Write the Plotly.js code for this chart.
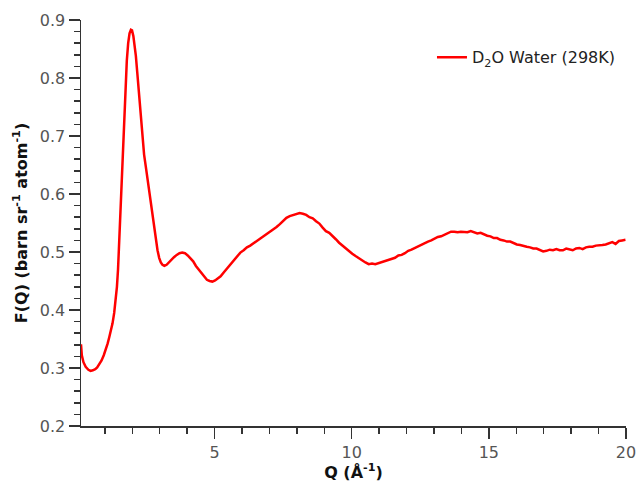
<!DOCTYPE html>
<html>
<head>
<meta charset="utf-8">
<script src="https://cdn.plot.ly/plotly-3.0.1.min.js"></script>
<style>html,body{margin:0;padding:0;background:#fff;}#chart{width:639px;height:482px;}</style>
</head>
<body>
<div id="chart"></div>
<script>
const seriesName = "D<sub>2</sub>O Water (298K)";
const xTitle = "Q (Å<sup>-1</sup>)";
const yTitle = "F(Q) (barn sr<sup>-1</sup> atom<sup>-1</sup>)";
const xTickVals = [5, 10, 15, 20];
const xTickText = ["5", "10", "15", "20"];
const yTickVals = [0.2, 0.3, 0.4, 0.5, 0.6, 0.7, 0.8, 0.9];
const yTickText = ["0.2", "0.3", "0.4", "0.5", "0.6", "0.7", "0.8", "0.9"];

const Q = [0.13,0.16,0.22,0.30,0.40,0.48,0.56,0.65,0.72,0.80,0.88,0.96,1.04,1.10,1.16,1.22,1.28,1.34,1.40,1.44,1.48,1.52,1.56,1.60,1.65,1.70,1.75,1.80,1.85,1.90,1.95,1.99,2.04,2.08,2.13,2.18,2.23,2.28,2.33,2.38,2.43,2.49,2.55,2.61,2.67,2.73,2.80,2.86,2.92,2.98,3.04,3.10,3.17,3.25,3.33,3.42,3.52,3.62,3.72,3.82,3.92,4.02,4.12,4.22,4.32,4.42,4.52,4.62,4.72,4.82,4.92,5.02,5.12,5.22,5.34,5.46,5.58,5.70,5.82,5.94,6.06,6.18,6.30,6.42,6.54,6.66,6.78,6.90,7.02,7.14,7.26,7.38,7.50,7.62,7.74,7.86,7.98,8.10,8.22,8.34,8.46,8.58,8.70,8.82,8.94,9.06,9.18,9.30,9.42,9.54,9.66,9.78,9.90,10.02,10.14,10.26,10.38,10.50,10.62,10.74,10.86,10.98,11.10,11.22,11.34,11.46,11.58,11.70,11.82,11.94,12.06,12.18,12.30,12.42,12.54,12.66,12.78,12.90,13.02,13.14,13.26,13.38,13.50,13.62,13.74,13.86,13.98,14.10,14.22,14.34,14.46,14.58,14.70,14.82,14.94,15.06,15.18,15.30,15.42,15.54,15.66,15.78,15.90,16.02,16.14,16.26,16.38,16.50,16.62,16.74,16.86,16.98,17.10,17.22,17.34,17.46,17.58,17.70,17.82,17.94,18.06,18.18,18.30,18.42,18.54,18.66,18.78,18.90,19.02,19.14,19.26,19.38,19.50,19.62,19.74,19.86,19.98];
const FQ = [0.341,0.322,0.310,0.302,0.297,0.295,0.296,0.298,0.301,0.306,0.313,0.322,0.332,0.342,0.353,0.364,0.377,0.395,0.418,0.440,0.470,0.515,0.565,0.615,0.670,0.728,0.782,0.830,0.860,0.877,0.883,0.882,0.872,0.858,0.838,0.810,0.780,0.745,0.715,0.690,0.668,0.648,0.628,0.606,0.584,0.563,0.543,0.522,0.503,0.490,0.482,0.478,0.476,0.478,0.482,0.487,0.491,0.495,0.498,0.499,0.498,0.494,0.489,0.484,0.476,0.470,0.462,0.456,0.452,0.450,0.449,0.451,0.454,0.458,0.465,0.472,0.480,0.486,0.494,0.499,0.503,0.508,0.511,0.515,0.519,0.522,0.527,0.530,0.535,0.539,0.543,0.548,0.554,0.559,0.562,0.564,0.565,0.567,0.566,0.564,0.560,0.558,0.553,0.549,0.542,0.536,0.533,0.528,0.522,0.516,0.511,0.506,0.502,0.497,0.493,0.489,0.485,0.482,0.479,0.480,0.479,0.481,0.482,0.485,0.487,0.489,0.490,0.494,0.495,0.498,0.502,0.504,0.507,0.510,0.512,0.515,0.518,0.520,0.523,0.526,0.527,0.530,0.533,0.535,0.535,0.534,0.535,0.535,0.534,0.536,0.534,0.532,0.533,0.530,0.528,0.527,0.524,0.524,0.521,0.520,0.518,0.518,0.515,0.513,0.512,0.510,0.509,0.508,0.506,0.506,0.504,0.501,0.502,0.504,0.503,0.505,0.503,0.503,0.506,0.505,0.503,0.506,0.507,0.505,0.508,0.509,0.509,0.511,0.511,0.512,0.513,0.515,0.517,0.514,0.519,0.520,0.521];

const trace = {
  x: Q, y: FQ, type: 'scatter', mode: 'lines', name: seriesName,
  line: {color: '#ff0000', width: 2.5}
};

const axisCommon = {
  showgrid: false, zeroline: false, showline: true,
  linecolor: '#333', linewidth: 1.5,
  ticks: 'outside', ticklen: 11, tickwidth: 1.5, tickcolor: '#333',
  tickfont: {family: 'DejaVu Sans', size: 16, color: '#555'}
};

const layout = {
  width: 639, height: 482, autosize: false,
  margin: {l: 81, r: 13, t: 20, b: 56},
  paper_bgcolor: '#fff', plot_bgcolor: '#fff',
  showlegend: true,
  legend: {x: 0.644, y: 0.95, xanchor: 'left', yanchor: 'top',
    bgcolor: 'rgba(0,0,0,0)', font: {family: 'DejaVu Sans', size: 16, color: '#222'}},
  xaxis: Object.assign({}, axisCommon, {
    range: [0.13, 20], tickvals: xTickVals, ticktext: xTickText,
    minor: {ticks: 'outside', ticklen: 6, tickwidth: 1.5, tickcolor: '#333', dtick: 1, tick0: 0},
    title: {text: xTitle, standoff: 6, font: {family: 'DejaVu Sans', size: 16, color: '#111', weight: 'bold'}}
  }),
  yaxis: Object.assign({}, axisCommon, {
    range: [0.2, 0.9], tickvals: yTickVals, ticktext: yTickText,
    minor: {ticks: 'outside', ticklen: 6, tickwidth: 1.5, tickcolor: '#333', dtick: 0.02, tick0: 0.2},
    title: {text: yTitle, standoff: 8, font: {family: 'DejaVu Sans', size: 16, color: '#111', weight: 'bold'}}
  })
};

Plotly.newPlot('chart', [trace], layout, {displayModeBar: false, staticPlot: true});
</script>
</body>
</html>
